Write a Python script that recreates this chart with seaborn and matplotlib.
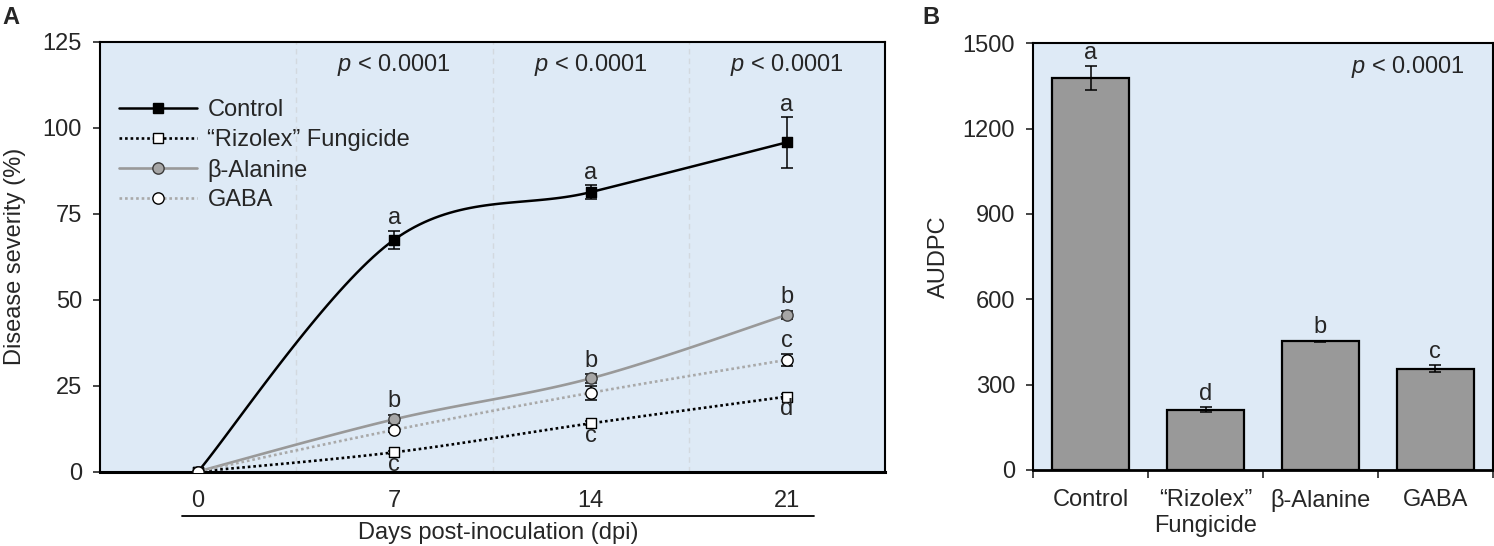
import numpy as np
import pandas as pd
import matplotlib
matplotlib.use("Agg")
import matplotlib.pyplot as plt
import matplotlib.lines as mlines
import seaborn as sns

# ---------------- data ----------------
days = [0, 7, 14, 21]
control_mean = [0, 67.5, 81.3, 95.8]
control_se = [0, 2.6, 2.0, 7.4]
rizolex_mean = [0, 5.6, 14.0, 21.8]
rizolex_se = [0, 0.5, 0.6, 0.8]
alanine_mean = [0, 15.2, 27.1, 45.6]
alanine_se = [0, 1.2, 1.3, 1.1]
gaba_mean = [0, 12.1, 22.9, 32.5]
gaba_se = [0, 0.7, 2.1, 1.8]

control_letters = ["", "a", "a", "a"]
alanine_letters = ["", "b", "b", "b"]
gaba_letters = ["", "", "", "c"]
rizolex_letters = ["", "c", "c", "d"]

series_names = ["Control", "\u201cRizolex\u201d Fungicide", "\u03b2-Alanine", "GABA"]

treatments = ["Control", "\u201cRizolex\u201d\nFungicide", "\u03b2-Alanine", "GABA"]
audpc = [1378, 212, 452, 356]
audpc_se = [42, 8, 3, 12]
audpc_letters = ["a", "d", "b", "c"]

p_text = r"$\mathit{p}$ < 0.0001"

# ---------------- style ----------------
sns.set_style("white")
plt.rcParams["font.family"] = ["Liberation Sans", "DejaVu Sans"]
plt.rcParams["mathtext.fontset"] = "custom"
plt.rcParams["mathtext.it"] = "Liberation Sans:italic"
plt.rcParams["mathtext.rm"] = "Liberation Sans"
FS = 17
BG = "#deeaf6"

fig = plt.figure(figsize=(14.94, 5.46), dpi=100)
W, H = 1494, 546
axA = fig.add_axes([100 / W, 1 - 471.5 / H, 785 / W, 429.5 / H])
axB = fig.add_axes([1033.3 / W, 1 - 470 / H, 459.4 / W, 426.7 / H])


def excel_smooth(x, y, n=40):
    """Excel-like smoothed line: cubic Bezier with Catmull-Rom tangents."""
    P = np.column_stack([x, y]).astype(float)
    Pext = np.vstack([P[0], P, P[-1]])
    out = []
    t = np.linspace(0, 1, n)[:, None]
    for i in range(len(P) - 1):
        p0 = Pext[i + 1]
        p3 = Pext[i + 2]
        c1 = p0 + (Pext[i + 2] - Pext[i]) / 6.0
        c2 = p3 - (Pext[i + 3] - Pext[i + 1]) / 6.0
        seg = ((1 - t) ** 3) * p0 + 3 * ((1 - t) ** 2) * t * c1 + 3 * (1 - t) * t ** 2 * c2 + t ** 3 * p3
        out.append(seg if i == 0 else seg[1:])
    S = np.vstack(out)
    return S[:, 0], S[:, 1]


# ---------------- panel A ----------------
ax = axA
ax.set_facecolor(BG)
ax.set_xlim(-3.5, 24.5)
ax.set_ylim(0, 125)

for gx in [3.5, 10.5, 17.5]:
    ax.axvline(gx, color="#d3d9df", lw=1.0, ls=(0, (4, 3)), zorder=0.5)

specs = [
    (control_mean, control_se, dict(color="black", ls="-", lw=1.8),
     dict(marker="s", fc="black", ec="black", s=62)),
    (rizolex_mean, rizolex_se, dict(color="black", ls=(0, (1, 1.1)), lw=1.9),
     dict(marker="s", fc="white", ec="black", s=62)),
    (alanine_mean, alanine_se, dict(color="#999999", ls="-", lw=1.9),
     dict(marker="o", fc="#a6a6a6", ec="#3a3a3a", s=66)),
    (gaba_mean, gaba_se, dict(color="#a9a9a9", ls=(0, (1, 1.1)), lw=1.9),
     dict(marker="o", fc="white", ec="black", s=66)),
]

handles = []
for (mean, se, lkw, mkw), name in zip(specs, series_names):
    sx, sy = excel_smooth(days, mean)
    df = pd.DataFrame({"x": sx, "y": sy})
    sns.lineplot(data=df, x="x", y="y", sort=False, estimator=None, ax=ax,
                 color=lkw["color"], linestyle=lkw["ls"], linewidth=lkw["lw"],
                 legend=False, zorder=2)
    d = np.array(days, float)
    m = np.array(mean, float)
    e = np.array(se, float)
    mask = e > 0
    ax.errorbar(d[mask], m[mask], yerr=e[mask], fmt="none", ecolor="black",
                elinewidth=1.1, capsize=4.6, capthick=1.1, zorder=3)
    dfm = pd.DataFrame({"x": days, "y": mean})
    sns.scatterplot(data=dfm, x="x", y="y", ax=ax, marker=mkw["marker"], s=mkw["s"],
                    color=mkw["fc"], edgecolor=mkw["ec"], linewidth=1.0,
                    legend=False, zorder=4)
    handles.append(mlines.Line2D([], [], color=lkw["color"], linestyle=lkw["ls"],
                                 linewidth=lkw["lw"], marker=mkw["marker"],
                                 markersize=np.sqrt(mkw["s"]), markerfacecolor=mkw["fc"],
                                 markeredgecolor=mkw["ec"], markeredgewidth=1.0))

ax.legend(handles, series_names, loc="upper left", bbox_to_anchor=(0.018, 0.878),
          frameon=False, fontsize=FS, handlelength=3.3, handletextpad=0.45,
          labelspacing=0.33, borderpad=0.2, borderaxespad=0)

# significance letters
fig.canvas.draw()
px2pt = 72.0 / fig.dpi
upp = (ax.transData.transform((0, 1))[1] - ax.transData.transform((0, 0))[1])  # px per unit
marker_r_pt = 4.0
gap_pt = 4.5
for mean, se, letters, above in [
    (control_mean, control_se, control_letters, True),
    (alanine_mean, alanine_se, alanine_letters, True),
    (gaba_mean, gaba_se, gaba_letters, True),
    (rizolex_mean, rizolex_se, rizolex_letters, False),
]:
    for x, m, e, lt in zip(days, mean, se, letters):
        if not lt:
            continue
        if above:
            e_pt = e * upp * px2pt
            off = max(marker_r_pt - e_pt, 0) + gap_pt
            ax.annotate(lt, xy=(x, m + e), xytext=(0, off), textcoords="offset points",
                        ha="center", va="baseline", fontsize=FS, zorder=5)
        else:
            ax.annotate(lt, xy=(x, m), xytext=(0, -1.2), textcoords="offset points",
                        ha="center", va="top", fontsize=FS, zorder=5)

for x in days[1:]:
    ax.text(x, 0.946, p_text, transform=ax.get_xaxis_transform(), ha="center",
            va="center", fontsize=FS)

ax.set_xticks(days)
ax.set_xticklabels([str(d) for d in days])
ax.set_yticks([0, 25, 50, 75, 100, 125])
ax.tick_params(axis="x", length=0, pad=13, labelsize=FS)
ax.tick_params(axis="y", direction="out", length=5, width=1.2, pad=8, labelsize=FS, left=True)
ax.set_xlabel("")
ax.set_ylabel("")
for s in ["top", "right", "left"]:
    ax.spines[s].set_visible(True)
    ax.spines[s].set_color("black")
    ax.spines[s].set_linewidth(1.5)
ax.spines["bottom"].set_color("black")
ax.spines["bottom"].set_linewidth(2.2)

ax.add_line(mlines.Line2D([0.104, 0.91], [-0.1036, -0.1036], transform=ax.transAxes,
                          color="black", lw=1.3, clip_on=False))
ax.text(0.507, -0.143, "Days post-inoculation (dpi)", transform=ax.transAxes,
        ha="center", va="center", fontsize=FS)
fig.text(15 / W, 1 - 256.5 / H, "Disease severity (%)", rotation=90, ha="center",
         va="center", fontsize=FS)
fig.text(2 / W, 1 - 17 / H, "A", ha="left", va="center", fontsize=FS, fontweight="bold")

# ---------------- panel B ----------------
ax = axB
ax.set_facecolor(BG)
dfb = pd.DataFrame({"treatment": treatments, "audpc": audpc})
sns.barplot(data=dfb, x="treatment", y="audpc", order=treatments, ax=ax,
            color="#999999", saturation=1, edgecolor="black", linewidth=1.6,
            width=0.67, errorbar=None, zorder=2)
ax.errorbar(np.arange(len(treatments)), audpc, yerr=audpc_se, fmt="none",
            ecolor="black", elinewidth=1.1, capsize=4.6, capthick=1.1, zorder=3)
ax.set_xlim(-0.5, len(treatments) - 0.5)
ax.set_ylim(0, 1500)
ax.set_yticks([0, 300, 600, 900, 1200, 1500])
for i, (v, e, lt) in enumerate(zip(audpc, audpc_se, audpc_letters)):
    ax.annotate(lt, xy=(i, v + e), xytext=(0, 5.2), textcoords="offset points",
                ha="center", va="baseline", fontsize=FS, zorder=5)
ax.text(0.816, 0.945, p_text, transform=ax.transAxes, ha="center", va="center", fontsize=FS)

ax.set_xticks(np.arange(len(treatments)))
ax.set_xticklabels(treatments)
ax.set_xticks(np.arange(-0.5, len(treatments)), minor=True)
ax.tick_params(axis="x", which="major", length=0, pad=14, labelsize=FS)
ax.tick_params(axis="x", which="minor", direction="out", length=6, width=1.2, bottom=True)
ax.tick_params(axis="y", direction="out", length=5, width=1.2, pad=8, labelsize=FS, left=True)
ax.set_xlabel("")
ax.set_ylabel("")
for s in ["top", "right", "left", "bottom"]:
    ax.spines[s].set_visible(True)
    ax.spines[s].set_color("black")
    ax.spines[s].set_linewidth(1.5)
ax.spines["bottom"].set_linewidth(2.0)
fig.text(939 / W, 1 - 257 / H, "AUDPC", rotation=90, ha="center", va="center", fontsize=FS)
fig.text(922 / W, 1 - 17 / H, "B", ha="left", va="center", fontsize=FS, fontweight="bold")

fig.savefig("out.png", dpi=100, facecolor="white")
